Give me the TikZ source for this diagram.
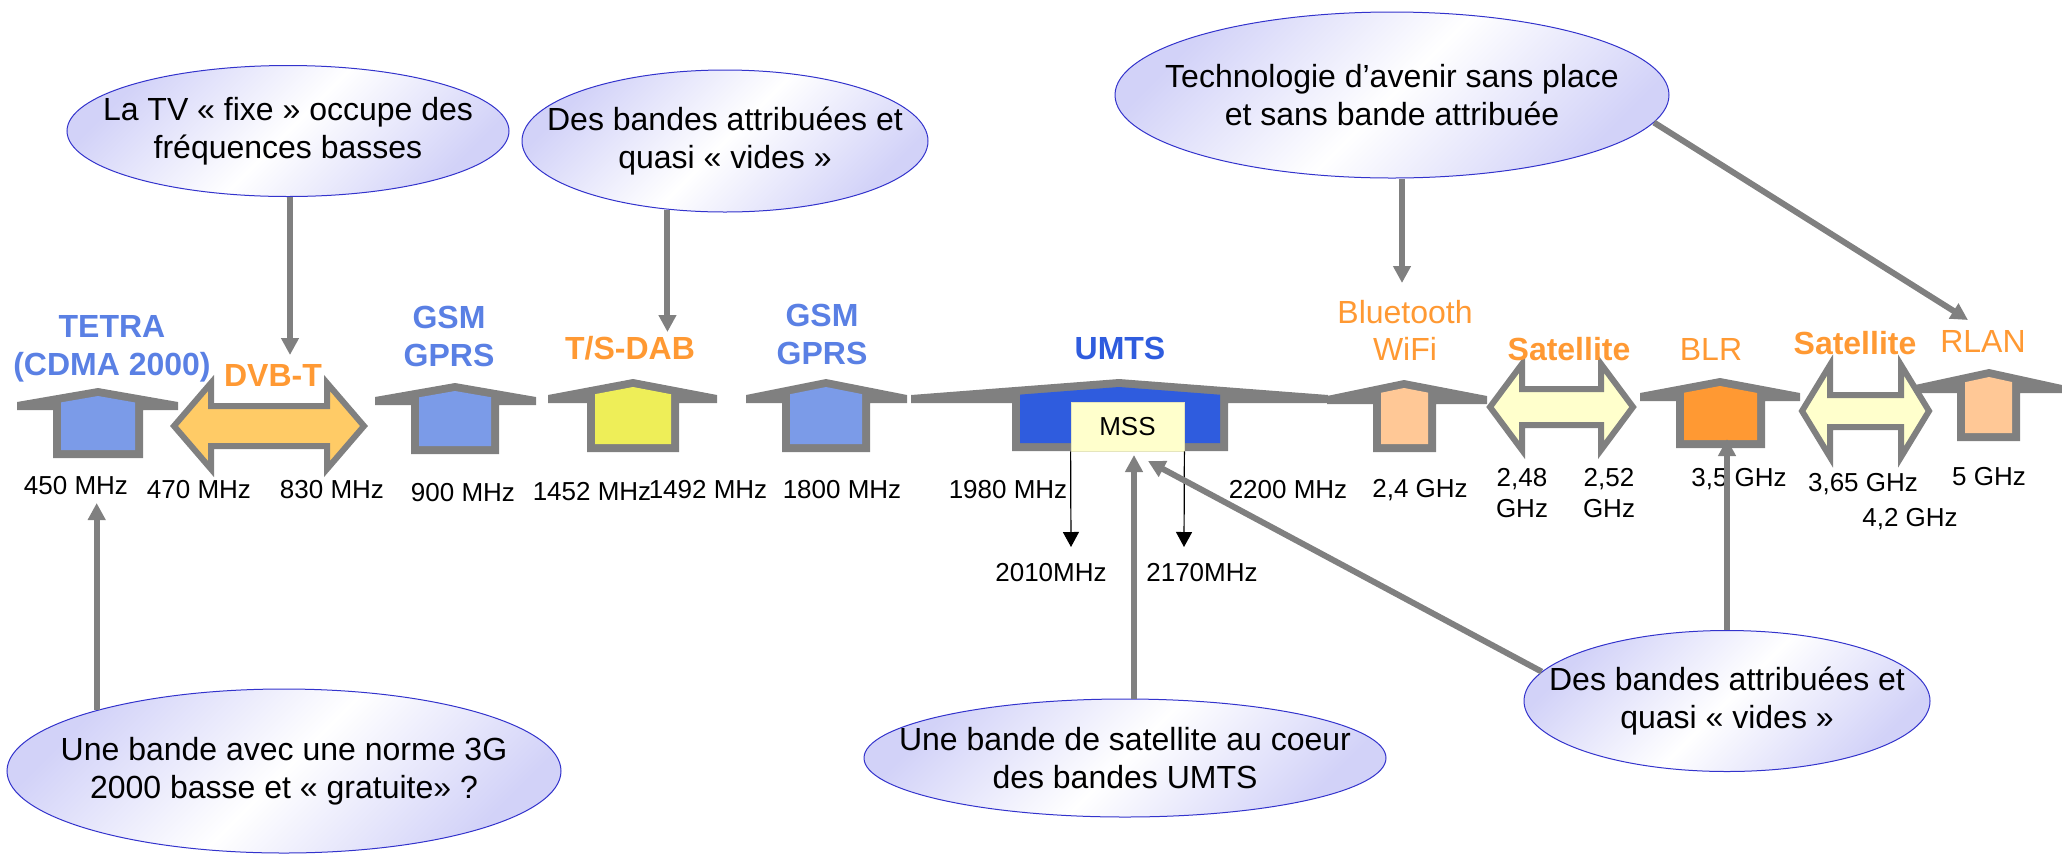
\documentclass[tikz,border=0pt]{standalone}
\usepackage{fontspec}
\setmainfont{Liberation Sans}
\usepackage{xcolor}
\usetikzlibrary{arrows.meta,shapes.geometric}

\definecolor{bargray}{HTML}{808080}
\definecolor{gsmblue}{HTML}{7B9BE8}
\definecolor{gsmtext}{HTML}{5A80E4}
\definecolor{umtsblue}{HTML}{2F5CDE}
\definecolor{tvorange}{HTML}{FFCB66}
\definecolor{dabyellow}{HTML}{EEEE58}
\definecolor{peach}{HTML}{FFC896}
\definecolor{blrorange}{HTML}{FF9933}
\definecolor{labelorange}{HTML}{FF9933}
\definecolor{paleyellow}{HTML}{FFFFCC}
\definecolor{noteborder}{HTML}{3333CC}
\definecolor{notefill}{HTML}{D2D2F8}

% bande en forme de maison : toit gauche, x sommet, toit droit, y sommet, y bord du toit, corps gauche, corps droit, bas, couleur
\newcommand{\bandhouse}[9]{%
  \pgfmathsetmacro{\hyl}{#4+(#5-#4)*(#2-#6-8)/(#2-#1)+8}%
  \pgfmathsetmacro{\hyr}{#4+(#5-#4)*(#7-8-#2)/(#3-#2)+8}%
  \fill[bargray] (#1,#5) -- (#2,#4) -- (#3,#5) -- (#3,#5+8) -- (#7,#5+8) -- (#7,#8)
    -- (#6,#8) -- (#6,#5+8) -- (#1,#5+8) -- cycle;
  \fill[#9] (#6+8,\hyl) -- (#2,#4+8) -- (#7-8,\hyr) -- (#7-8,#8-8) -- (#6+8,#8-8) -- cycle;
}
% double fleche : pointe gauche, pointe droite, y centre, demi-hauteur tete, demi-hauteur corps, longueur tete, couleur
\newcommand{\bandarrow}[7]{%
  \filldraw[draw=bargray,line width=3pt,fill=#7]
    (#1,#3) -- (#1+#6,#3-#4) -- (#1+#6,#3-#5) -- (#2-#6,#3-#5) -- (#2-#6,#3-#4) -- (#2,#3)
    -- (#2-#6,#3+#4) -- (#2-#6,#3+#5) -- (#1+#6,#3+#5) -- (#1+#6,#3+#4) -- cycle;
}

\begin{document}
\begin{tikzpicture}[
				x=0.5pt,y=-0.5pt,
				note/.style={ellipse,draw=noteborder,line width=0.5pt,top color=notefill,bottom color=notefill,middle color=white,shading angle=45,inner sep=0pt},
				notetext/.style={align=center,inner sep=0pt,font=\fontsize{16}{19}\selectfont},
				bandlab/.style={inner sep=0pt,align=center,font=\bfseries\fontsize{16}{19}\selectfont},
				techlab/.style={inner sep=0pt,align=center,text=labelorange,font=\fontsize{16}{18.5}\selectfont},
				freq/.style={inner sep=0pt,align=center,font=\fontsize{13}{15.5}\selectfont},
				pointer/.style={draw=bargray,line width=3pt,-{Triangle[length=8.5pt,width=8.5pt]}},
				edgearrow/.style={draw=black,line width=0.6pt,-{Triangle[length=7.5pt,width=8pt]}}
				]
				\useasboundingbox (0,0) rectangle (2062,853);
				
				% Bandes
				\bandhouse{17}{98}{178}{388}{402}{53}{143}{458}{gsmblue}
				\bandarrow{174}{364}{426}{43}{20}{37}{tvorange}
				\bandhouse{375}{455}{536}{383}{397}{411}{499}{454}{gsmblue}
				\bandhouse{548}{633}{717}{379}{395}{587}{679}{452}{dabyellow}
				\bandhouse{746}{826}{907}{379}{395}{782}{870}{452}{gsmblue}
				\bandhouse{911}{1119}{1328}{379}{395}{1012}{1228}{451}{umtsblue}
				\bandhouse{1327}{1404}{1487}{380}{396}{1373}{1436}{452}{peach}
				\bandarrow{1490}{1633}{407}{43}{18}{32}{paleyellow}
				\bandhouse{1640}{1720}{1800}{378}{393}{1676}{1765}{448}{blrorange}
				\bandarrow{1802}{1929}{411}{46}{16}{28}{paleyellow}
				\bandhouse{1915}{1989}{2062}{369}{385}{1957}{2020}{441}{peach}
				
				\node[draw=paleyellow!80!gray,line width=0.4pt,fill=paleyellow,minimum width=56.5pt,minimum height=24.5pt,inner sep=0pt,font=\fontsize{13}{15.5}\selectfont] (mss) at (1127.5,426.5) {MSS};
				
				% Noms des bandes
				\node[bandlab,text=gsmtext] (tetra) at (112,349) {TETRA\\(CDMA 2000)};
				\node[bandlab,text=labelorange] (dvbt) at (273,375) {DVB-T};
				\node[bandlab,text=gsmtext] (gsma) at (449,336) {GSM\\GPRS};
				\node[bandlab,text=labelorange] (dab) at (630,348) {T/S-DAB};
				\node[bandlab,text=gsmtext] (gsmb) at (822,334) {GSM\\GPRS};
				\node[bandlab,text=umtsblue] (umts) at (1120,348) {UMTS};
				\node[techlab] (bt) at (1405,330) {Bluetooth\\WiFi};
				\node[bandlab,text=labelorange] (sata) at (1569,349) {Satellite};
				\node[techlab] (blr) at (1711,349) {BLR};
				\node[bandlab,text=labelorange] (satb) at (1855,343) {Satellite};
				\node[techlab] (rlan) at (1983,341) {RLAN};
				
				% Frequences
				\node[freq] (f450) at (76,486) {450 MHz};
				\node[freq] (f470) at (199,490) {470 MHz};
				\node[freq] (f830) at (332,490) {830 MHz};
				\node[freq] (f900) at (463,493) {900 MHz};
				\node[freq] (f1452) at (592,492) {1452 MHz};
				\node[freq] (f1492) at (708,490) {1492 MHz};
				\node[freq] (f1800) at (842,490) {1800 MHz};
				\node[freq] (f1980) at (1008,490) {1980 MHz};
				\node[freq] (f2200) at (1288,490) {2200 MHz};
				\node[freq] (f24) at (1420,490) {2,4 GHz};
				\node[freq] (f248) at (1522,493) {2,48\\GHz};
				\node[freq] (f252) at (1609,493) {2,52\\GHz};
				\node[freq] (f35) at (1739,479) {3,5 GHz};
				\node[freq] (f365) at (1863,484) {3,65 GHz};
				\node[freq] (f42) at (1910,519) {4,2 GHz};
				\node[freq] (f5) at (1989,477) {5 GHz};
				\node[freq] (f2010) at (1051,573) {2010MHz};
				\node[freq] (f2170) at (1202,573) {2170MHz};
				
				% Bornes MSS
				\coordinate (c2010) at (1071,547);
				\coordinate (c2170) at (1184,547);
				\draw[edgearrow] (mss.south west) -- (c2010);
				\draw[edgearrow] (mss.south east) -- (c2170);
				
				% Bulles
				\node[note,minimum width=221pt,minimum height=65.5pt,label={[notetext]center:La TV « fixe » occupe des\\fréquences basses}] (tvnote) at (288,131) {};
				\node[note,minimum width=203pt,minimum height=71pt,label={[notetext]center:Des bandes attribuées et\\quasi « vides »}] (dabnote) at (725,141) {};
				\node[note,minimum width=277pt,minimum height=83pt,label={[notetext]center:Technologie d’avenir sans place\\et sans bande attribuée}] (technote) at (1392,95) {};
				\node[note,minimum width=277pt,minimum height=82pt,label={[notetext]center:Une bande avec une norme 3G\\2000 basse et « gratuite» ?}] (tetranote) at (284,771) {};
				\node[note,minimum width=261pt,minimum height=59pt,label={[notetext]center:Une bande de satellite au coeur\\des bandes UMTS}] (mssnote) at (1125,758) {};
				\node[note,minimum width=203pt,minimum height=70.5pt,label={[notetext]center:Des bandes attribuées et\\quasi « vides »}] (blrnote) at (1727,701) {};
				
				% Fleches des bulles
				\coordinate (dvbtip) at (290,355);
				\coordinate (dabtip) at (669,332);
				\coordinate (bttip) at (1402,283);
				\coordinate (rlantip) at (1968,320);
				\coordinate (tetratip) at (98,503);
				\coordinate (msstip) at (1134,455);
				\coordinate (blrtip) at (1727,439);
				\coordinate (msstipb) at (1148,461);
				\draw[pointer] (tvnote.south -| dvbtip) -- (dvbtip);
				\draw[pointer] (dabnote.-130) -- (dabnote.-130 |- dabtip);
				\draw[pointer] (technote.south -| bttip) -- (bttip);
				\draw[pointer] (technote.-6) -- (rlantip);
				\draw[pointer] (tetranote.162) -- (tetranote.162 |- tetratip);
				\draw[pointer] (mssnote.north -| msstip) -- (msstip);
				\draw[pointer] (blrnote.north) -- (blrtip);
				\draw[pointer] (blrnote.171) -- (msstipb);
				
			\end{tikzpicture}
\end{document}
